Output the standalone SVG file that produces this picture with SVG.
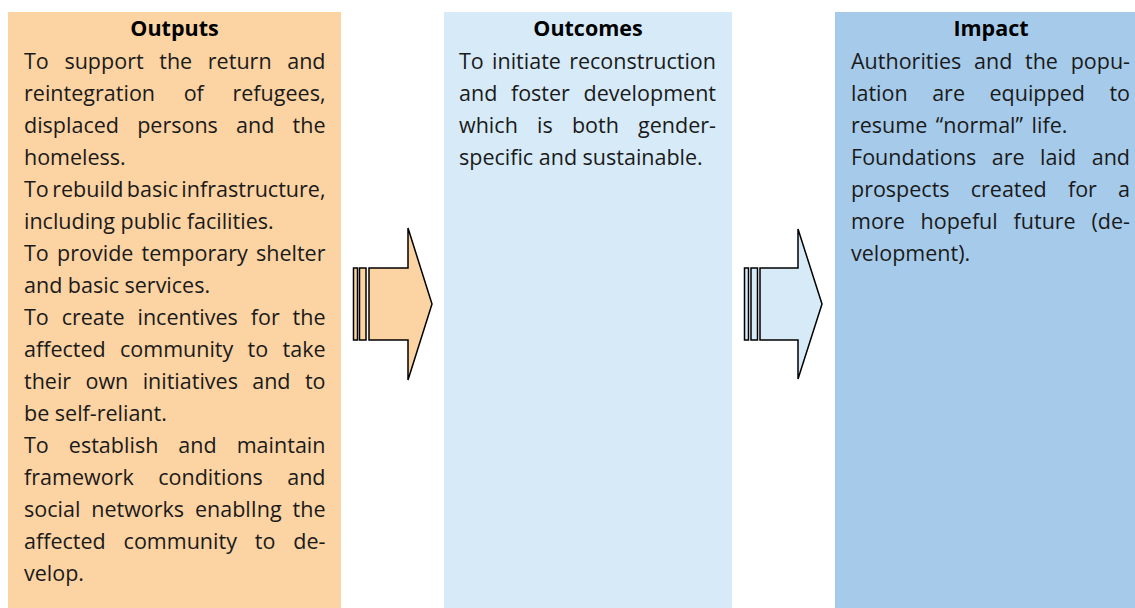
<svg xmlns="http://www.w3.org/2000/svg" width="1135" height="608" viewBox="0 0 1135 608">
<style>
  .t { font-family: "Open Sans", "Noto Sans", "Liberation Sans", sans-serif; font-size: 21.5px; fill: #1a1a1a; }
  .h { font-family: "Open Sans", "Noto Sans", "Liberation Sans", sans-serif; font-size: 21.5px; font-weight: bold; fill: #000; text-anchor: middle; }
  .arrow { stroke: #000; stroke-width: 1.5; stroke-linejoin: miter; }
  .orange { fill: #FCD3A2; }
  .light { fill: #D6EAF8; }
  .mid { fill: #A6CBEA; }
</style>
<rect width="1135" height="608" fill="#fff"/>

<g id="outputs">
  <rect class="orange" x="8" y="12" width="333" height="600"/>
  <text class="h" x="174.5" y="36">Outputs</text>
  <text class="t" x="24" y="69" textLength="301.5" lengthAdjust="spacing" word-spacing="10">To support the return and</text>
  <text class="t" x="24" y="101" textLength="301.5" lengthAdjust="spacing" word-spacing="23">reintegration of refugees,</text>
  <text class="t" x="24" y="133" textLength="301.5" lengthAdjust="spacing" word-spacing="12.6">displaced persons and the</text>
  <text class="t" x="24" y="165">homeless.</text>
  <text class="t" x="24" y="197" textLength="301.5" lengthAdjust="spacing" word-spacing="-2.2">To rebuild basic infrastructure,</text>
  <text class="t" x="24" y="229">including public facilities.</text>
  <text class="t" x="24" y="261" textLength="301.5" lengthAdjust="spacing" word-spacing="2.6">To provide temporary shelter</text>
  <text class="t" x="24" y="293">and basic services.</text>
  <text class="t" x="24" y="325" textLength="301.5" lengthAdjust="spacing" word-spacing="7.3">To create incentives for the</text>
  <text class="t" x="24" y="357" textLength="301.5" lengthAdjust="spacing" word-spacing="8.7">affected community to take</text>
  <text class="t" x="24" y="389" textLength="301.5" lengthAdjust="spacing" word-spacing="8.8">their own initiatives and to</text>
  <text class="t" x="24" y="421">be self-reliant.</text>
  <text class="t" x="24" y="453" textLength="301.5" lengthAdjust="spacing" word-spacing="14.4">To establish and maintain</text>
  <text class="t" x="24" y="485" textLength="301.5" lengthAdjust="spacing" word-spacing="18.8">framework conditions and</text>
  <text class="t" x="24" y="517" textLength="301.5" lengthAdjust="spacing" word-spacing="5.3">social networks enablIng the</text>
  <text class="t" x="24" y="549" textLength="301.5" lengthAdjust="spacing" word-spacing="12.3">affected community to de-</text>
  <text class="t" x="24" y="581">velop.</text>
</g>

<g id="outcomes">
  <rect class="light" x="444" y="12" width="288" height="600"/>
  <text class="h" x="588" y="36">Outcomes</text>
  <text class="t" x="459" y="69" textLength="257" lengthAdjust="spacing" word-spacing="2.6">To initiate reconstruction</text>
  <text class="t" x="459" y="101" textLength="257" lengthAdjust="spacing" word-spacing="8">and foster development</text>
  <text class="t" x="459" y="133" textLength="257" lengthAdjust="spacing" word-spacing="13.6">which is both gender-</text>
  <text class="t" x="459" y="165">specific and sustainable.</text>
</g>

<g id="impact">
  <rect class="mid" x="835" y="12" width="312" height="600"/>
  <text class="h" x="991" y="36">Impact</text>
  <text class="t" x="851" y="69" textLength="279" lengthAdjust="spacing" word-spacing="7.1">Authorities and the popu-</text>
  <text class="t" x="851" y="101" textLength="279" lengthAdjust="spacing" word-spacing="18.9">lation are equipped to</text>
  <text class="t" x="851" y="133" word-spacing="3">resume “normal” life.</text>
  <text class="t" x="851" y="165" textLength="279" lengthAdjust="spacing" word-spacing="9.9">Foundations are laid and</text>
  <text class="t" x="851" y="197" textLength="279" lengthAdjust="spacing" word-spacing="15.6">prospects created for a</text>
  <text class="t" x="851" y="229" textLength="279" lengthAdjust="spacing" word-spacing="10.2">more hopeful future (de-</text>
  <text class="t" x="851" y="261">velopment).</text>
</g>

<g id="connectors">
  <g id="arrow-outputs-outcomes">
    <rect class="arrow orange" x="353.5" y="268" width="4" height="72"/>
    <rect class="arrow orange" x="359.5" y="268" width="6.5" height="72"/>
    <polygon class="arrow orange" points="369,268 408,268 408,228 432,304 408,380 408,340 369,340"/>
  </g>
  <g id="arrow-outcomes-impact">
    <rect class="arrow light" x="744.5" y="268" width="4" height="72"/>
    <rect class="arrow light" x="751" y="268" width="6.5" height="72"/>
    <polygon class="arrow light" points="760,268 798,268 798,229 822,304 798,379 798,340 760,340"/>
  </g>
</g>
</svg>
